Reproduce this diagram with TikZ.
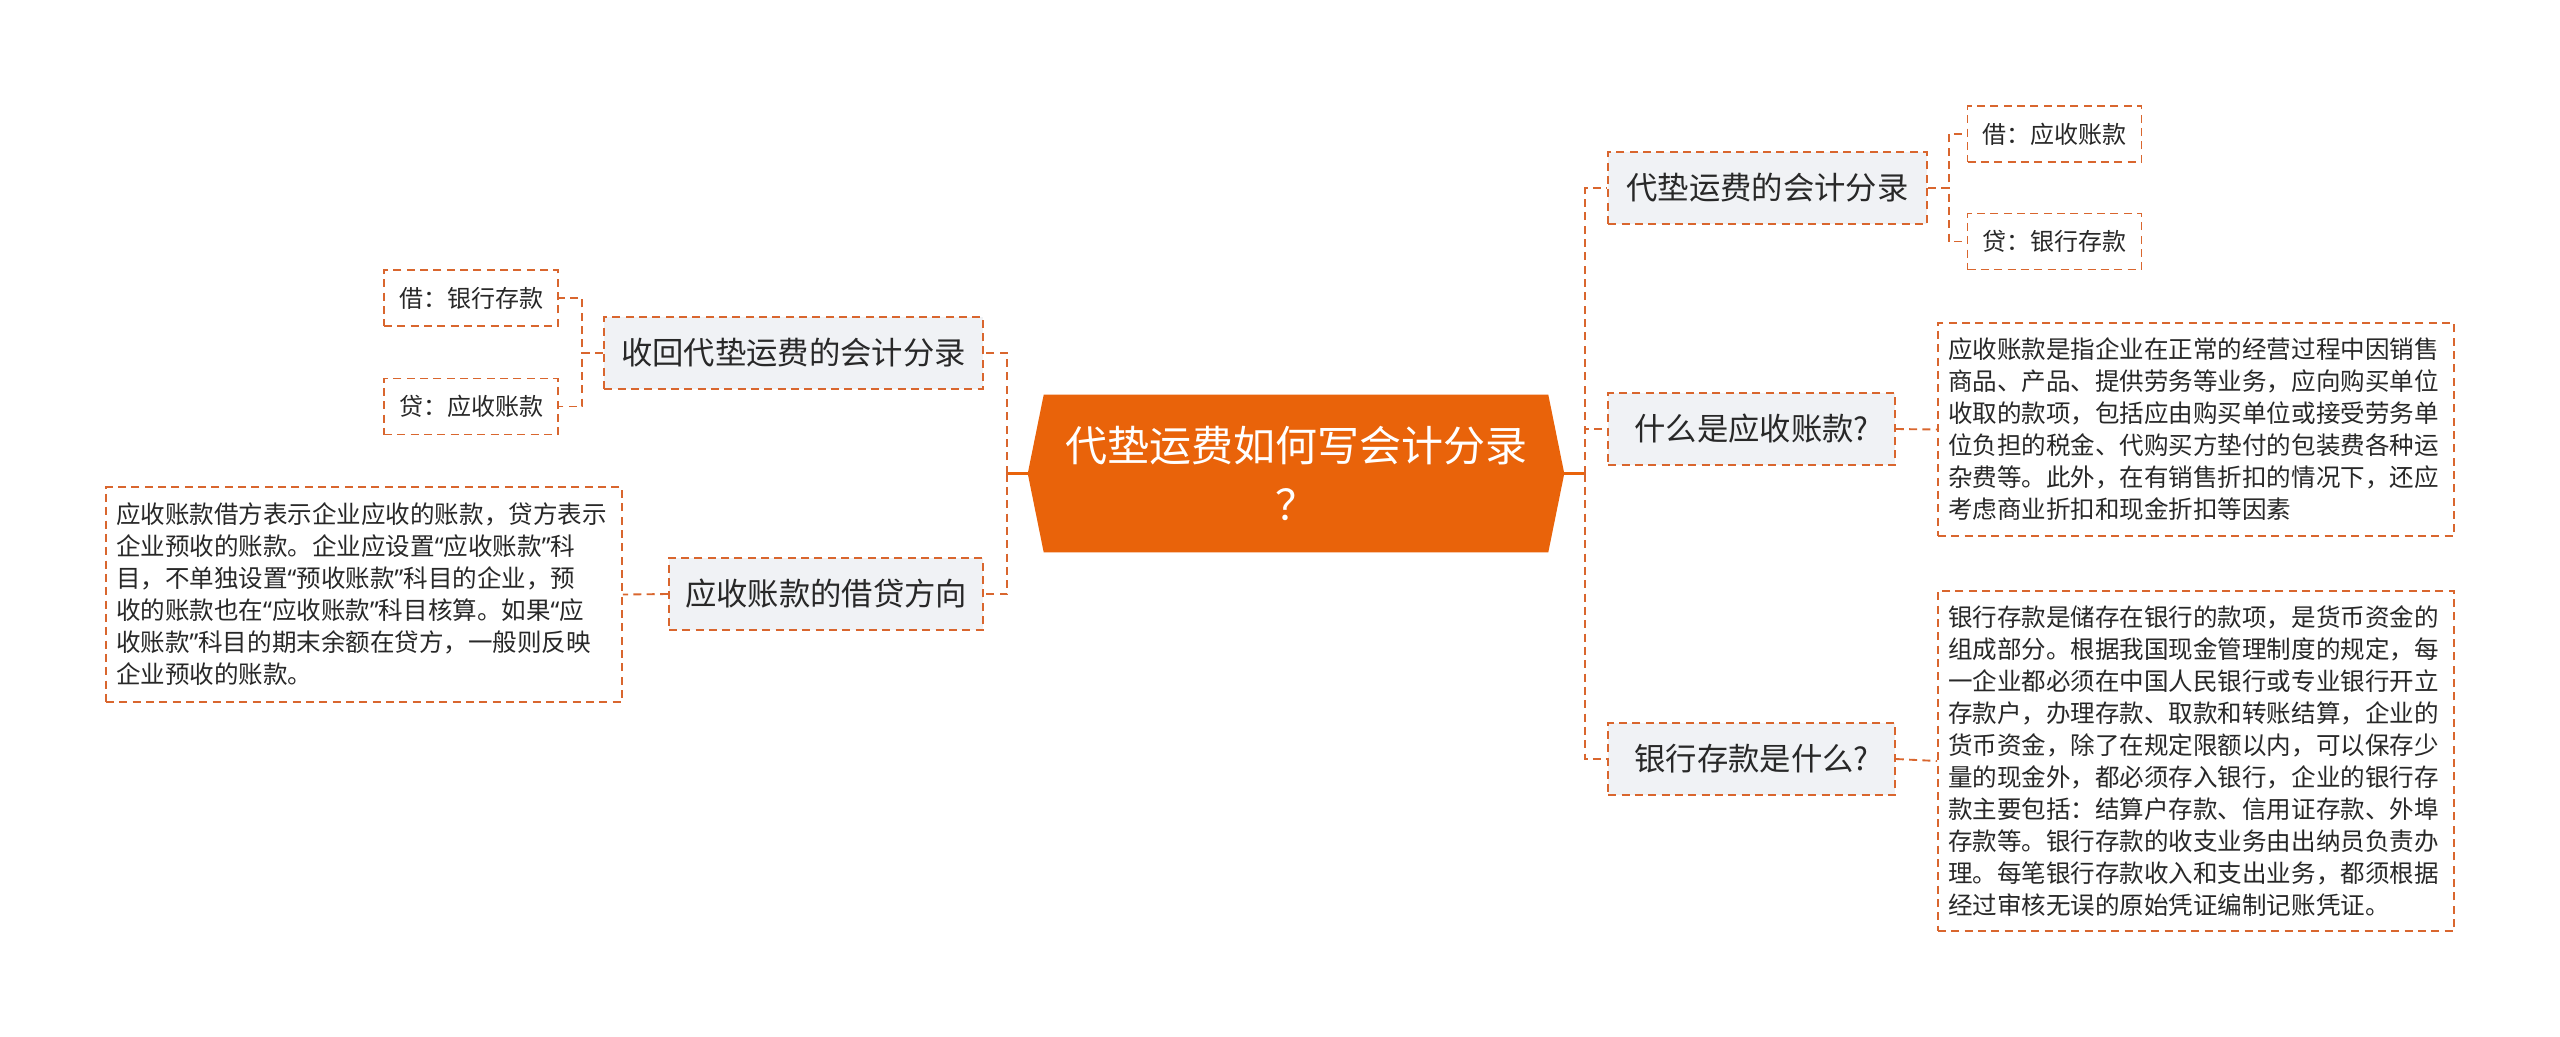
\documentclass[tikz,border=0pt]{standalone}
\usepackage{fontspec}
\setmainfont{Noto Sans CJK SC}
\newfontfamily\latinq{Noto Sans}
\newcommand{\myoq}{{\latinq “}}
\newcommand{\mycq}{{\latinq ”}}
\usetikzlibrary{backgrounds}
\definecolor{orng}{RGB}{233,99,10}
\definecolor{dorng}{RGB}{217,102,46}
\definecolor{lgray}{RGB}{240,242,245}
\definecolor{txt}{RGB}{40,40,40}
\begin{document}
\begin{tikzpicture}[x=0.75pt,y=-0.75pt,
  dsh/.style={draw=dorng, line width=1.4pt, dash pattern=on 6pt off 4pt},
  conn/.style={dsh},
  rootconn/.style={draw=orng, line width=2pt},
  lone/.style={dsh, fill=lgray, text=txt, inner sep=0pt, minimum height=54pt,
    font=\fontsize{23.5pt}{28pt}\selectfont},
  ltwo/.style={dsh, fill=white, text=txt, inner sep=0pt, minimum width=130.5pt, minimum height=42pt,
    font=\fontsize{18pt}{22pt}\selectfont},
  tbox/.style={dsh, fill=white, text=txt, align=left, text width=372pt, inner xsep=7.5pt, inner ysep=0pt,
    font=\fontsize{18.4pt}{24pt}\selectfont},
  rootnode/.style={text=white, align=center, inner sep=0pt, minimum width=402pt, minimum height=118pt,
    font=\fontsize{31.5pt}{44pt}\selectfont}
]
\useasboundingbox (0,0) rectangle (2560,1036);

% root
\node[rootnode] (root) at (1296,473.5) {代垫运费如何写会计分录\\？};
\begin{pgfonlayer}{background}
\fill[white] (0,0) rectangle (2560,1036);
\fill[orng] ([xshift=12pt]root.north west) -- ([xshift=-12pt]root.north east) -- (root.east)
  -- ([xshift=-12pt]root.south east) -- ([xshift=12pt]root.south west) -- (root.west) -- cycle;
\end{pgfonlayer}

% left level 1
\node[lone, minimum width=284pt] (ls) at (793.5,353) {收回代垫运费的会计分录};
\node[lone, minimum width=235.5pt] (ld) at (826,594) {应收账款的借贷方向};
% left level 2
\node[ltwo] (lsa) at (471,298) {借：银行存款};
\node[ltwo] (lsb) at (471,406.5) {贷：应收账款};
\node[tbox, minimum height=161pt] (ldt) at (364,594.5) {应收账款借方表示企业应收的账款，贷方表示\\企业预收的账款。企业应设置\myoq 应收账款\mycq 科\\目，不单独设置\myoq 预收账款\mycq 科目的企业，预\\收的账款也在\myoq 应收账款\mycq 科目核算。如果\myoq 应\\收账款\mycq 科目的期末余额在贷方，一般则反映\\企业预收的账款。};

% right level 1
\node[lone, minimum width=239pt] (rd) at (1767.5,188) {代垫运费的会计分录};
\node[lone, minimum width=215pt] (rw) at (1751.5,429) {什么是应收账款?};
\node[lone, minimum width=215pt] (rb) at (1751.5,759) {银行存款是什么?};
% right level 2
\node[ltwo] (rda) at (2054.5,134) {借：应收账款};
\node[ltwo] (rdb) at (2054.5,241.5) {贷：银行存款};
\node[tbox, minimum height=160pt] (rwt) at (2196,429.5) {应收账款是指企业在正常的经营过程中因销售\\商品、产品、提供劳务等业务，应向购买单位\\收取的款项，包括应由购买单位或接受劳务单\\位负担的税金、代购买方垫付的包装费各种运\\杂费等。此外，在有销售折扣的情况下，还应\\考虑商业折扣和现金折扣等因素};
\node[tbox, minimum height=255pt] (rbt) at (2196,761) {银行存款是储存在银行的款项，是货币资金的\\组成部分。根据我国现金管理制度的规定，每\\一企业都必须在中国人民银行或专业银行开立\\存款户，办理存款、取款和转账结算，企业的\\货币资金，除了在规定限额以内，可以保存少\\量的现金外，都必须存入银行，企业的银行存\\款主要包括：结算户存款、信用证存款、外埠\\存款等。银行存款的收支业务由出纳员负责办\\理。每笔银行存款收入和支出业务，都须根据\\经过审核无误的原始凭证编制记账凭证。};

% trunks
\coordinate (lt) at (1007,473.5);
\coordinate (rt) at (1585,473.5);
\draw[rootconn] (root.west) -- (lt);
\draw[rootconn] (root.east) -- (rt);
\draw[conn] (lt) |- (ls.east);
\draw[conn] (lt) |- (ld.east);
\draw[conn] (rt) |- (rd.west);
\draw[conn] (rt) |- (rw.west);
\draw[conn] (rt) |- (rb.west);

% sub connectors
\draw[conn] (ls.west) -- ++(-21,0) |- (lsa.east);
\draw[conn] (ls.west) -- ++(-21,0) |- (lsb.east);
\draw[conn] (ld.west) -- (ldt.east);
\draw[conn] (rd.east) -- ++(21,0) |- (rda.west);
\draw[conn] (rd.east) -- ++(21,0) |- (rdb.west);
\draw[conn] (rw.east) -- (rwt.west);
\draw[conn] (rb.east) -- (rbt.west);
\end{tikzpicture}
\end{document}
